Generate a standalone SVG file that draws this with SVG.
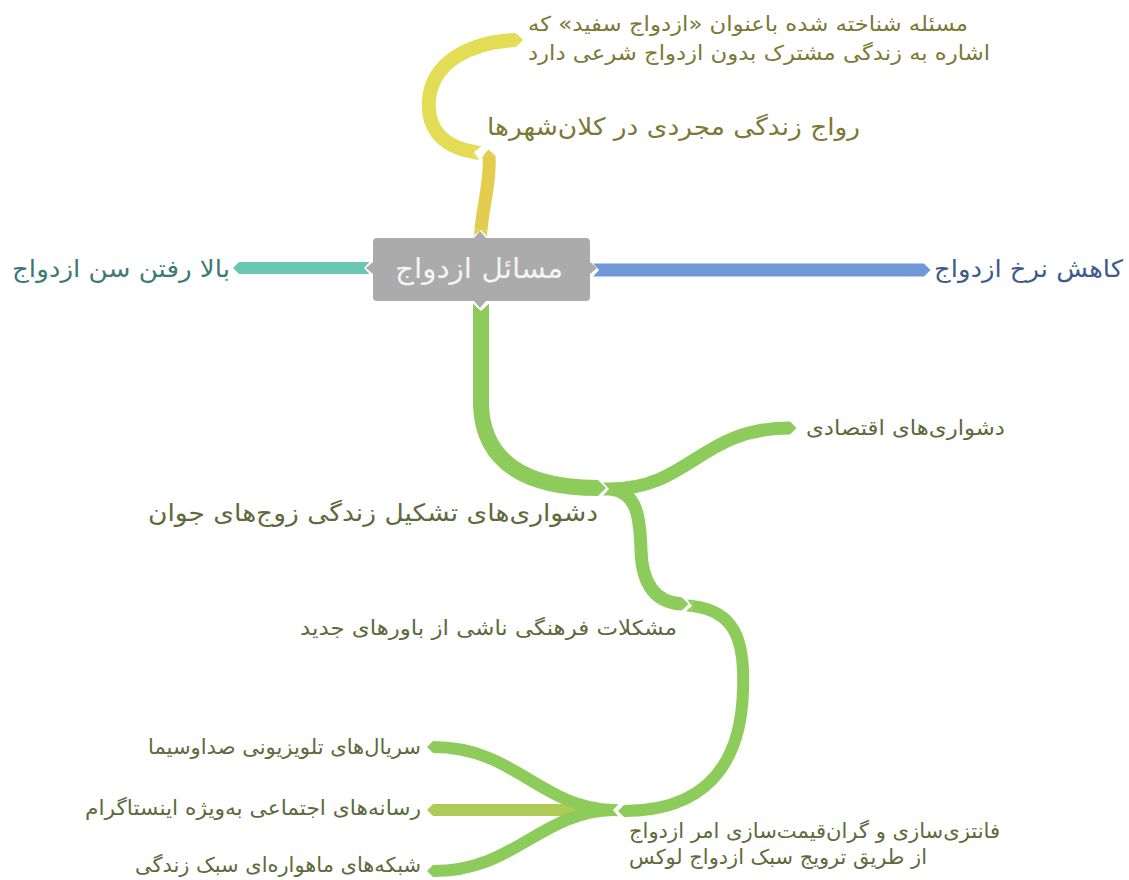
<svg xmlns="http://www.w3.org/2000/svg" width="1129" height="880" viewBox="0 0 1129 880">
<style>
text { font-family: "DejaVu Sans", sans-serif; dominant-baseline: central; }
.c { fill: none; stroke-linecap: butt; stroke-linejoin: round; }
.t18 { font-size: 20.5px; }
.t21 { font-size: 24px; }
.gtx { fill: #5d6a3c; }
.ytx { fill: #7c7836; }
</style>
<defs>
<marker id="tipTeal" viewBox="-1 -1 2 2" markerWidth="2" markerHeight="2" orient="auto" markerUnits="strokeWidth"><polygon points="0,-0.5 0.5,0 0,0.5" fill="#6cc6b4"/></marker>
<marker id="tailTeal" viewBox="-1 -1 2 2" markerWidth="2" markerHeight="2" orient="auto" markerUnits="strokeWidth"><polygon points="0,-0.5 -0.45,-0.5 0,0 -0.45,0.5 0,0.5" fill="#6cc6b4"/></marker>
<marker id="tipBlue" viewBox="-1 -1 2 2" markerWidth="2" markerHeight="2" orient="auto" markerUnits="strokeWidth"><polygon points="0,-0.5 0.5,0 0,0.5" fill="#6e99d6"/></marker>
<marker id="tailBlue" viewBox="-1 -1 2 2" markerWidth="2" markerHeight="2" orient="auto" markerUnits="strokeWidth"><polygon points="0,-0.5 -0.45,-0.5 0,0 -0.45,0.5 0,0.5" fill="#6e99d6"/></marker>
<marker id="tipGold" viewBox="-1 -1 2 2" markerWidth="2" markerHeight="2" orient="auto" markerUnits="strokeWidth"><polygon points="0,-0.5 0.5,0 0,0.5" fill="#e3cd4f"/></marker>
<marker id="tailGold" viewBox="-1 -1 2 2" markerWidth="2" markerHeight="2" orient="auto" markerUnits="strokeWidth"><polygon points="0,-0.5 -0.45,-0.5 0,0 -0.45,0.5 0,0.5" fill="#e3cd4f"/></marker>
<marker id="tipYel" viewBox="-1 -1 2 2" markerWidth="2" markerHeight="2" orient="auto" markerUnits="strokeWidth"><polygon points="0,-0.5 0.5,0 0,0.5" fill="#e4dc55"/></marker>
<marker id="tailYel" viewBox="-1 -1 2 2" markerWidth="2" markerHeight="2" orient="auto" markerUnits="strokeWidth"><polygon points="0,-0.5 -0.45,-0.5 0,0 -0.45,0.5 0,0.5" fill="#e4dc55"/></marker>
<marker id="tipGrn" viewBox="-1 -1 2 2" markerWidth="2" markerHeight="2" orient="auto" markerUnits="strokeWidth"><polygon points="0,-0.5 0.5,0 0,0.5" fill="#8dcb5a"/></marker>
<marker id="tailGrn" viewBox="-1 -1 2 2" markerWidth="2" markerHeight="2" orient="auto" markerUnits="strokeWidth"><polygon points="0,-0.5 -0.45,-0.5 0,0 -0.45,0.5 0,0.5" fill="#8dcb5a"/></marker>
<marker id="tipLime" viewBox="-1 -1 2 2" markerWidth="2" markerHeight="2" orient="auto" markerUnits="strokeWidth"><polygon points="0,-0.5 0.5,0 0,0.5" fill="#aecb55"/></marker>
</defs>

<g id="connectors">
  <path class="c" d="M 364 268 L 239 268" stroke="#6cc6b4" stroke-width="12" marker-start="url(#tailTeal)" marker-end="url(#tipTeal)"/>
  <path class="c" d="M 599 270 L 924 270" stroke="#6e99d6" stroke-width="13" marker-start="url(#tailBlue)" marker-end="url(#tipBlue)"/>
  <path class="c" d="M 481 230 C 483 205, 491 180, 489 156" stroke="#e3cd4f" stroke-width="13" marker-start="url(#tailGold)" marker-end="url(#tipGold)"/>
  <path class="c" d="M 474 152 C 438 146, 427 124, 429 100 C 432 62, 470 42, 516 40" stroke="#e4dc55" stroke-width="14" marker-start="url(#tailYel)" marker-end="url(#tipYel)"/>
  <path class="c" d="M 481 311 L 481 405 C 483 465, 530 488, 598 488" stroke="#8dcb5a" stroke-width="16" marker-start="url(#tailGrn)" marker-end="url(#tipGrn)"/>
  <path class="c" d="M 609 489 C 690 489, 700 428, 790 428" stroke="#8dcb5a" stroke-width="13" marker-start="url(#tailGrn)" marker-end="url(#tipGrn)"/>
  <path class="c" d="M 611 489 C 638 492, 640 520, 641 550 C 642 590, 660 603, 682 604" stroke="#8dcb5a" stroke-width="13" marker-end="url(#tipGrn)"/>
  <path class="c" d="M 692 606 C 735 611, 745 640, 743 690 C 741 770, 700 811, 624 811" stroke="#8dcb5a" stroke-width="12" marker-start="url(#tailGrn)" marker-end="url(#tipGrn)"/>
  <path class="c" d="M 605 810 L 433 810" stroke="#aecb55" stroke-width="12" marker-end="url(#tipLime)"/>
  <path class="c" d="M 613 810 C 540 808, 515 747, 433 747" stroke="#8dcb5a" stroke-width="12" marker-start="url(#tailGrn)" marker-end="url(#tipGrn)"/>
  <path class="c" d="M 613 810 C 540 812, 515 871, 433 871" stroke="#8dcb5a" stroke-width="12" marker-end="url(#tipGrn)"/>
</g>

<g id="center">
  <rect x="373" y="238" width="217" height="63" rx="4" fill="#ababab"/>
  <polygon points="474,238 480,231 486,238" fill="#ababab"/>
  <polygon points="474,301 480,308 486,301" fill="#ababab"/>
  <polygon points="373,262 366,268 373,274" fill="#ababab"/>
  <polygon points="590,262 597,268 590,274" fill="#ababab"/>
  <text x="395" y="268" font-size="28" fill="#f4f4f4" text-anchor="start" textLength="168" lengthAdjust="spacingAndGlyphs">مسائل ازدواج</text>
</g>

<g id="n-age"><text x="12" y="269" class="t21" fill="#3e7a74" textLength="218" lengthAdjust="spacingAndGlyphs">بالا رفتن سن ازدواج</text></g>
<g id="n-rate"><text x="934" y="269" class="t21" fill="#3d5b8d" textLength="189" lengthAdjust="spacingAndGlyphs">کاهش نرخ ازدواج</text></g>
<g id="n-single"><text x="487" y="127" class="t21 ytx" textLength="373" lengthAdjust="spacingAndGlyphs">رواج زندگی مجردی در کلان‌شهرها</text></g>
<g id="n-white">
  <text x="528" y="24" class="t18 ytx" textLength="440" lengthAdjust="spacingAndGlyphs">مسئله شناخته شده باعنوان «ازدواج سفید» که</text>
  <text x="528" y="53" class="t18 ytx" textLength="462" lengthAdjust="spacingAndGlyphs">اشاره به زندگی مشترک بدون ازدواج شرعی دارد</text>
</g>
<g id="n-young"><text x="148" y="513" class="t21 gtx" textLength="450" lengthAdjust="spacingAndGlyphs">دشواری‌های تشکیل زندگی زوج‌های جوان</text></g>
<g id="n-econ"><text x="806" y="428" class="t18 gtx" textLength="199" lengthAdjust="spacingAndGlyphs">دشواری‌های اقتصادی</text></g>
<g id="n-culture"><text x="300" y="628" class="t18 gtx" textLength="377" lengthAdjust="spacingAndGlyphs">مشکلات فرهنگی ناشی از باورهای جدید</text></g>
<g id="n-fantasy">
  <text x="629" y="831" class="t18 gtx" textLength="371" lengthAdjust="spacingAndGlyphs">فانتزی‌سازی و گران‌قیمت‌سازی امر ازدواج</text>
  <text x="629" y="857" class="t18 gtx" textLength="298" lengthAdjust="spacingAndGlyphs">از طریق ترویج سبک ازدواج لوکس</text>
</g>
<g id="n-tv"><text x="148" y="747" class="t18 gtx" textLength="273" lengthAdjust="spacingAndGlyphs">سریال‌های تلویزیونی صداوسیما</text></g>
<g id="n-social"><text x="85" y="808" class="t18 gtx" textLength="336" lengthAdjust="spacingAndGlyphs">رسانه‌های اجتماعی به‌ویژه اینستاگرام</text></g>
<g id="n-sat"><text x="135" y="865" class="t18 gtx" textLength="286" lengthAdjust="spacingAndGlyphs">شبکه‌های ماهواره‌ای سبک زندگی</text></g>
</svg>
